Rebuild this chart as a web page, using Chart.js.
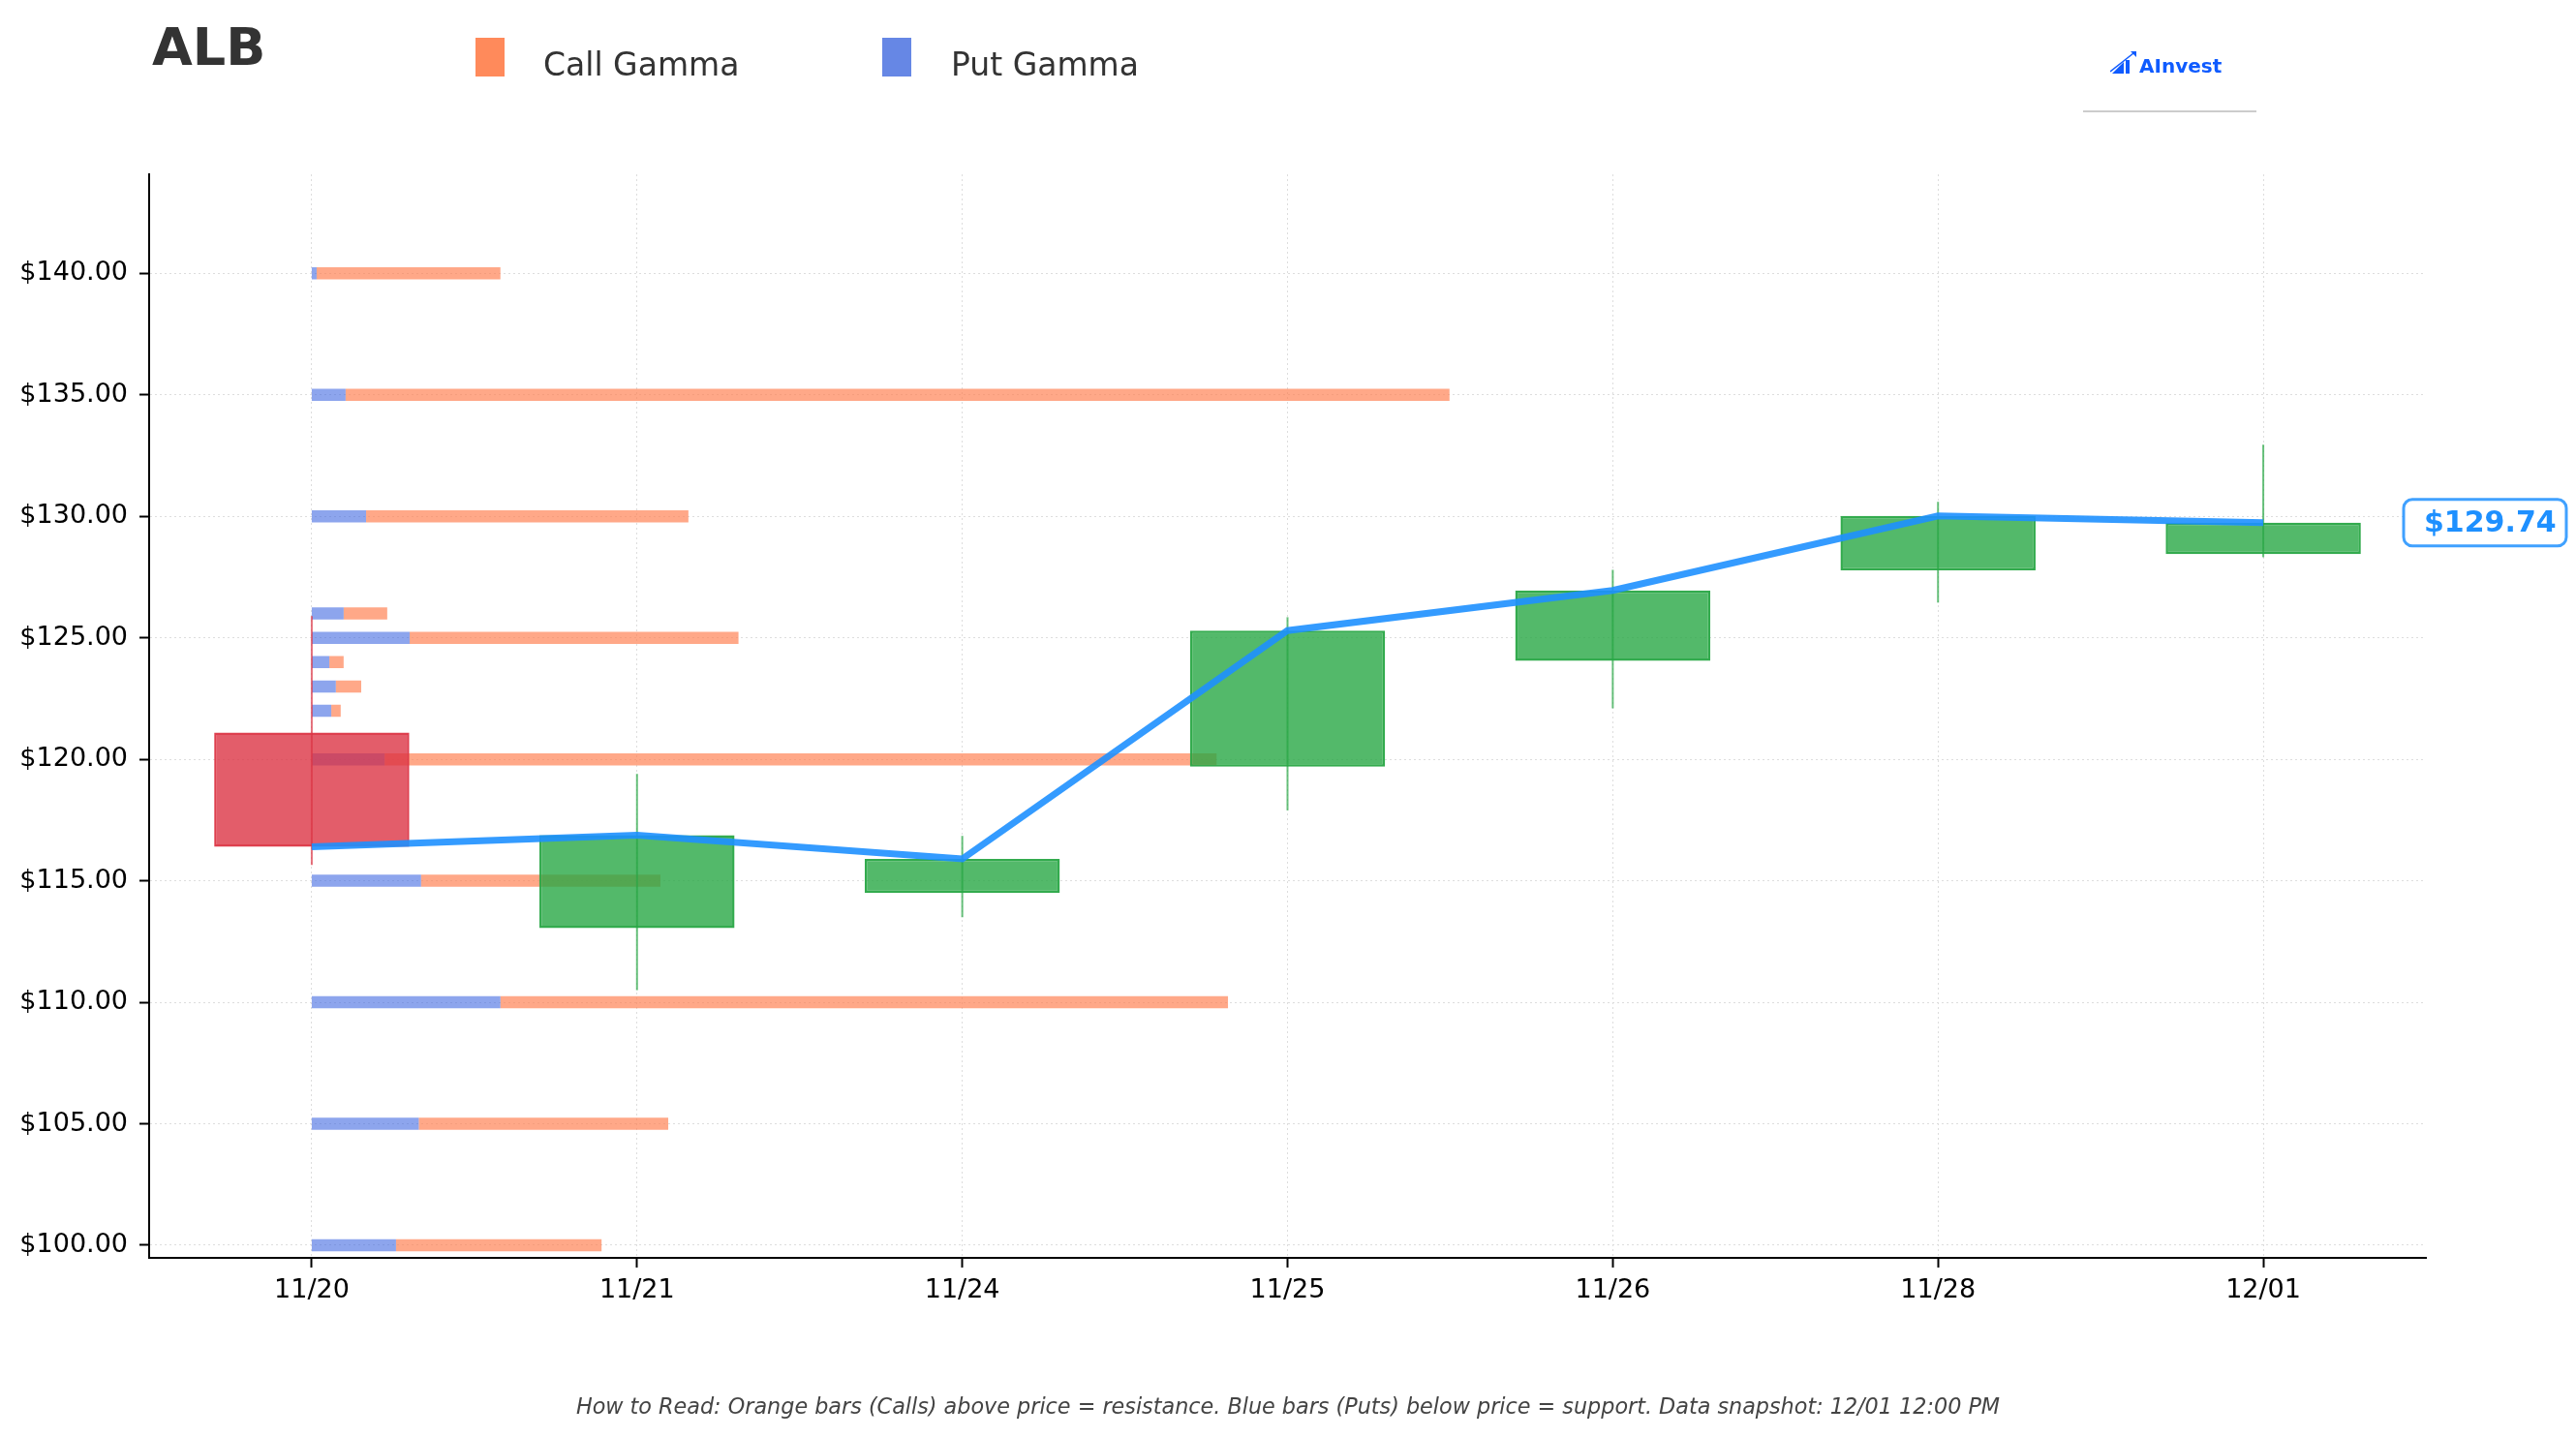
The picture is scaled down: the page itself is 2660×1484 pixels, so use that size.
<!DOCTYPE html>
<html>
<head>
<meta charset="utf-8">
<script src="https://cdn.jsdelivr.net/npm/chart.js@4.4.1/dist/chart.umd.min.js"></script>
<style>
html, body { margin: 0; padding: 0; background: #fff; }
#wrap { position: relative; width: 2660px; height: 1484px; overflow: hidden; font-family: 'DejaVu Sans', sans-serif; color: #333; }
#chart { position: absolute; left: 0; top: 0; }
.txt { position: absolute; line-height: 1; white-space: nowrap; }
.swatch { position: absolute; width: 30px; height: 40px; }
</style>
</head>
<body>
<div id="wrap">
  <canvas id="chart" width="2660" height="1484"></canvas>
  <div class="txt" style="left:157px; top:22px; font-size:54px; font-weight:bold;">ALB</div>
  <div class="swatch" style="left:491px; top:39px; background:#FF8A5B;"></div>
  <div class="txt" style="left:561px; top:50px; font-size:33px;">Call Gamma</div>
  <div class="swatch" style="left:911px; top:39px; background:#6687E5;"></div>
  <div class="txt" style="left:982px; top:50px; font-size:33px;">Put Gamma</div>
  <svg style="position:absolute; left:2179px; top:53px;" width="28" height="24" viewBox="0 0 28 24">
    <polygon points="2,23 14,11 14,23" fill="#0F5BFF"/>
    <rect x="16" y="9" width="4" height="14" fill="#0F5BFF"/>
    <line x1="0" y1="21" x2="24" y2="2" stroke="#0F5BFF" stroke-width="1.5"/>
    <polygon points="21,0 27,0 27,6" fill="#0F5BFF"/>
  </svg>
  <div class="txt" style="left:2209px; top:58px; font-size:20px; font-weight:bold; color:#0F5BFF;">AInvest</div>
  <div style="position:absolute; left:2151px; top:114px; width:179px; height:2px; background:#cccccc;"></div>
  <div class="txt" style="left:0; width:2660px; text-align:center; top:1441px; font-size:22.3px; font-style:italic; color:#444;">How to Read: Orange bars (Calls) above price = resistance. Blue bars (Puts) below price = support. Data snapshot: 12/01 12:00 PM</div>
</div>
<script>
const dates = ['11/20', '11/21', '11/24', '11/25', '11/26', '11/28', '12/01'];
const opens = [121.10, 113.05, 114.50, 119.70, 124.05, 127.78, 128.45];
const highs = [125.90, 119.40, 116.85, 125.85, 127.80, 130.60, 132.95];
const lows = [115.65, 110.50, 113.50, 117.90, 122.10, 126.45, 128.32];
const closes = [116.40, 116.88, 115.90, 125.30, 126.95, 130.02, 129.74];

// gamma bar lengths, in days of the time axis
const strikes = [140, 135, 130, 126, 125, 124, 123, 122, 120, 115, 110, 105, 100];
const putGamma = [0.015, 0.104, 0.167, 0.098, 0.301, 0.054, 0.074, 0.060, 0.224, 0.336, 0.580, 0.329, 0.259];
const callGamma = [0.565, 3.394, 0.991, 0.134, 1.011, 0.044, 0.078, 0.029, 2.558, 0.736, 2.237, 0.767, 0.632];

const priceTicks = [100, 105, 110, 115, 120, 125, 130, 135, 140];
const lastPrice = 129.74;

const GREEN = [40, 167, 69];
const RED = [220, 53, 69];
const rgba = (c, a) => `rgba(${c[0]}, ${c[1]}, ${c[2]}, ${a})`;
const candleColor = dates.map((_, i) => (closes[i] >= opens[i] ? GREEN : RED));

Chart.defaults.font.family = "'DejaVu Sans', sans-serif";
Chart.defaults.color = '#000';

const putSegments = strikes.flatMap((s, i) => [
    { x: 0, y: s },
    { x: putGamma[i], y: s },
    { x: putGamma[i], y: null },
]);
const callSegments = strikes.flatMap((s, i) => [
    { x: putGamma[i], y: s },
    { x: putGamma[i] + callGamma[i], y: s },
    { x: putGamma[i] + callGamma[i], y: null },
]);

const priceLabel = {
    id: 'priceLabel',
    afterDraw(chart) {
        const { ctx, chartArea } = chart;
        const y = chart.scales.y.getPixelForValue(lastPrice);
        const left = chartArea.right - 23;
        const w = 168;
        const h = 48;
        ctx.save();
        ctx.beginPath();
        ctx.roundRect(left, y - h / 2, w, h, 9);
        ctx.fillStyle = '#fff';
        ctx.fill();
        ctx.lineWidth = 3;
        ctx.strokeStyle = 'rgba(30, 144, 255, 0.85)';
        ctx.stroke();
        ctx.fillStyle = '#1E90FF';
        ctx.font = "bold 30px 'DejaVu Sans'";
        ctx.textBaseline = 'middle';
        ctx.fillText('$' + lastPrice.toFixed(2), left + 21, y + 1);
        ctx.restore();
    },
};

const gridStyle = { color: '#dddddd', lineWidth: 1, tickLength: 10, tickColor: '#000', tickWidth: 2 };

new Chart(document.getElementById('chart'), {
    type: 'line',
    data: {
        datasets: [
            {
                type: 'line',
                data: dates.map((_, i) => ({ x: i, y: closes[i] })),
                borderColor: 'rgba(30, 144, 255, 0.9)',
                borderWidth: 7,
                pointRadius: 0,
                tension: 0,
                order: 0,
            },
            {
                type: 'bar',
                data: dates.map((_, i) => ({ x: i, y: [lows[i], highs[i]] })),
                backgroundColor: candleColor.map((c) => rgba(c, 0.7)),
                maxBarThickness: 2,
                grouped: false,
                order: 1,
            },
            {
                type: 'bar',
                data: dates.map((_, i) => ({ x: i, y: [opens[i], closes[i]] })),
                backgroundColor: candleColor.map((c) => rgba(c, 0.8)),
                borderColor: candleColor.map((c) => rgba(c, 0.95)),
                borderWidth: 2.5,
                borderSkipped: false,
                categoryPercentage: 1,
                barPercentage: 0.6,
                grouped: false,
                order: 2,
            },
            {
                type: 'line',
                data: putSegments,
                borderColor: 'rgba(65, 105, 225, 0.6)',
                borderWidth: 12.5,
                borderCapStyle: 'butt',
                pointRadius: 0,
                spanGaps: false,
                order: 3,
            },
            {
                type: 'line',
                data: callSegments,
                borderColor: 'rgba(255, 127, 80, 0.68)',
                borderWidth: 12.5,
                borderCapStyle: 'butt',
                pointRadius: 0,
                spanGaps: false,
                order: 4,
            },
        ],
    },
    options: {
        responsive: false,
        animation: false,
        devicePixelRatio: 1,
        layout: { padding: { left: 0, right: 155, top: 180, bottom: 125 } },
        plugins: { legend: { display: false }, tooltip: { enabled: false } },
        scales: {
            x: {
                type: 'linear',
                min: -0.5,
                max: 6.5,
                offset: false,
                afterBuildTicks: (scale) => {
                    scale.ticks = dates.map((_, i) => ({ value: i }));
                },
                afterFit: (scale) => {
                    scale.height = 60;
                },
                ticks: {
                    callback: (v) => dates[v],
                    font: { size: 27 },
                    color: '#000',
                    padding: 8,
                    maxRotation: 0,
                    autoSkip: false,
                },
                grid: { ...gridStyle, offset: false },
                border: { display: true, color: '#000', width: 2, dash: [2, 3] },
            },
            y: {
                type: 'linear',
                min: 99.48,
                max: 144.08,
                beginAtZero: false,
                afterBuildTicks: (scale) => {
                    scale.ticks = priceTicks.map((v) => ({ value: v }));
                },
                afterFit: (scale) => {
                    scale.width = 154;
                },
                ticks: {
                    callback: (v) => '$' + Number(v).toFixed(2),
                    font: { size: 27 },
                    color: '#000',
                    padding: 12,
                },
                grid: gridStyle,
                border: { display: true, color: '#000', width: 2, dash: [2, 3] },
            },
        },
    },
    plugins: [priceLabel],
});
</script>
</body>
</html>
